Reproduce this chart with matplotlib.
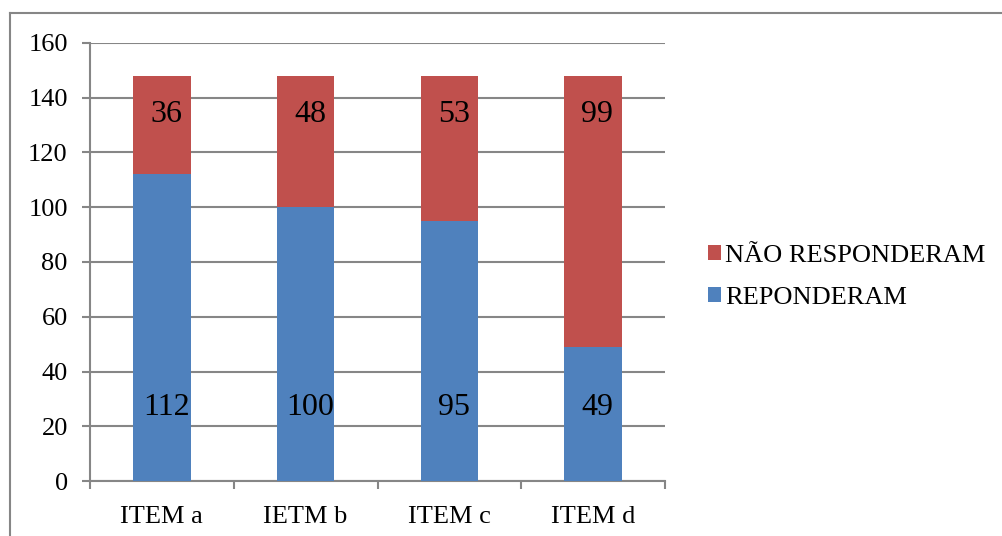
import numpy as np
import matplotlib.pyplot as plt
from matplotlib.lines import Line2D

itens = ['ITEM a', 'IETM b', 'ITEM c', 'ITEM d']
responderam = [112, 100, 95, 49]
nao_responderam = [36, 48, 53, 99]

azul = '#4F81BD'
vermelho = '#C0504D'
cinza = '#868686'

plt.rcParams['font.family'] = ['Liberation Serif', 'DejaVu Serif']

fig = plt.figure(figsize=(10.02, 5.36), dpi=100)
W, H = 1002, 536
ax = fig.add_axes([90 / W, (H - 481) / H, (665 - 90) / W, (481 - 43) / H])

x = np.arange(len(itens))
ax.bar(x, responderam, width=0.4, color=azul, label='REPONDERAM', zorder=3)
ax.bar(x, nao_responderam, width=0.4, bottom=responderam, color=vermelho,
       label='NÃO RESPONDERAM', zorder=3)

for xi, r, n in zip(x, responderam, nao_responderam):
    ax.text(xi + 0.03, 27, str(r), ha='center', va='center', fontsize=23, zorder=4)
    ax.text(xi + 0.03, 134, str(n), ha='center', va='center', fontsize=23, zorder=4)

ax.set_ylim(0, 160)
ax.set_xlim(-0.5, 3.5)
ax.set_yticks(range(0, 161, 20))
ax.yaxis.grid(True, color=cinza, linewidth=1.5, zorder=0)
ax.set_axisbelow(True)

ax.set_xticks(np.arange(-0.5, 4, 1))
ax.set_xticklabels([])
ax.set_xticks(x, minor=True)
ax.set_xticklabels(itens, minor=True)
ax.tick_params(axis='x', which='major', length=6, width=1.5, color=cinza, direction='out')
ax.tick_params(axis='x', which='minor', length=0, pad=18, labelsize=19)
ax.tick_params(axis='y', length=6, width=1.5, color=cinza, labelsize=19, pad=10)

for s in ['top', 'right']:
    ax.spines[s].set_visible(False)
for s in ['left', 'bottom']:
    ax.spines[s].set_color(cinza)
    ax.spines[s].set_linewidth(1.5)

handles, labels = ax.get_legend_handles_labels()
leg = fig.legend(handles[::-1], labels[::-1], loc='center left',
                 bbox_to_anchor=(695 / W, (H - 277) / H), frameon=False,
                 fontsize=19, handlelength=0.5, handleheight=0.5,
                 handletextpad=0.15, labelspacing=0.75, borderpad=0)

# moldura do grafico
fig.add_artist(Line2D([10 / W, 10 / W], [(H - 13) / H, 0], color=cinza, linewidth=1.5))
fig.add_artist(Line2D([10 / W, 1], [(H - 13) / H, (H - 13) / H], color=cinza, linewidth=1.5))

fig.savefig('out.png', dpi=100)
